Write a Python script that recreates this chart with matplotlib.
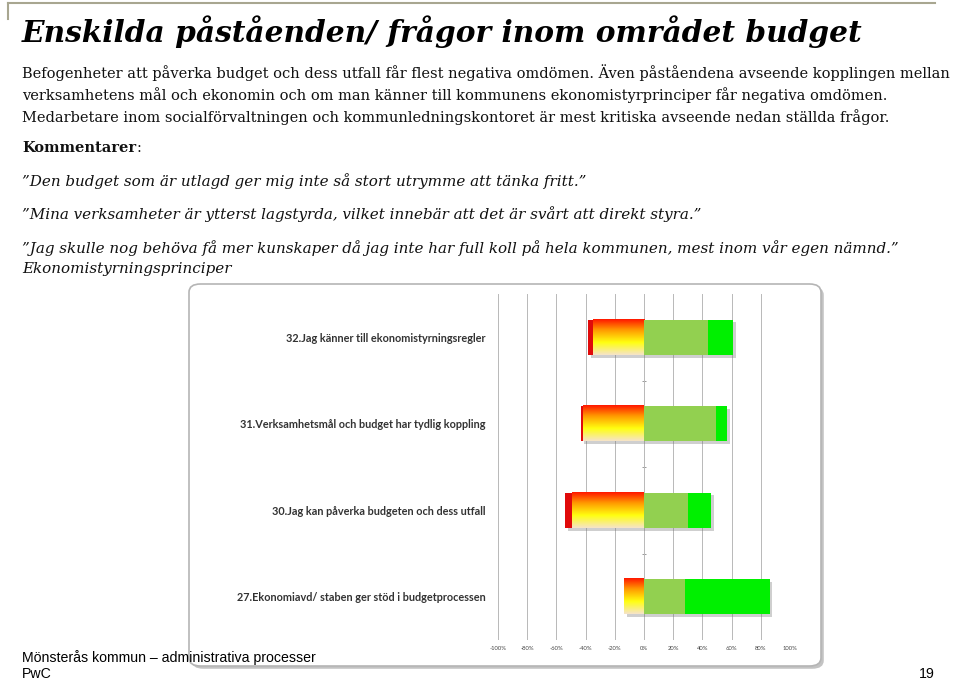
import matplotlib

matplotlib.use("Agg")

import matplotlib.pyplot as plt
import numpy as np
from matplotlib import patheffects
from matplotlib.colors import LinearSegmentedColormap
from matplotlib.patches import FancyBboxPatch

W, H = 959, 681

# survey statements, bottom to top as drawn
questions = [
    "27.Ekonomiavd/ staben ger stöd i budgetprocessen",
    "30.Jag kan påverka budgeten och dess utfall",
    "31.Verksamhetsmål och budget har tydlig koppling",
    "32.Jag känner till ekonomistyrningsregler",
]
# share of answers (%)
disagree_strong = [0.0, 5.0, 1.7, 3.5]
disagree_some = [13.5, 49.0, 41.5, 35.0]
agree_some = [28.0, 30.0, 49.0, 44.0]
agree_strong = [58.0, 16.0, 8.0, 17.0]
tick_values = [-100, -80, -60, -40, -20, 0, 20, 40, 60, 80, 100]

title = "Enskilda påståenden/ frågor inom området budget"
body_lines = [
    "Befogenheter att påverka budget och dess utfall får flest negativa omdömen. Även påståendena avseende kopplingen mellan",
    "verksamhetens mål och ekonomin och om man känner till kommunens ekonomistyrprinciper får negativa omdömen.",
    "Medarbetare inom socialförvaltningen och kommunledningskontoret är mest kritiska avseende nedan ställda frågor.",
]
quotes = [
    "”Den budget som är utlagd ger mig inte så stort utrymme att tänka fritt.”",
    "”Mina verksamheter är ytterst lagstyrda, vilket innebär att det är svårt att direkt styra.”",
    "”Jag skulle nog behöva få mer kunskaper då jag inte har full koll på hela kommunen, mest inom vår egen nämnd.”",
]


def fx(px):
    return px / W


def fy(py):
    return 1 - py / H


fig = plt.figure(figsize=(W / 100, H / 100), dpi=100)
fig.patch.set_facecolor("white")
renderer = fig.canvas.get_renderer()


def fit_text(x, y, s, target_w, size, **kw):
    t = fig.text(fx(x), fy(y), s, fontsize=size, va="center", **kw)
    w = t.get_window_extent(renderer).width
    t.set_fontsize(size * target_w / w)
    return t


serif = "DejaVu Serif"
ink = "#111111"

# slide decoration top-left
deco = "#A8A690"
fig.add_artist(plt.Line2D([fx(8), fx(935)], [fy(3), fy(3)], color=deco, lw=1.5))
fig.add_artist(plt.Line2D([fx(8), fx(8)], [fy(3), fy(19)], color=deco, lw=1.5))

fit_text(22, 32, title, 838, 22, family=serif, weight="bold", style="italic", color="black")

t0 = fit_text(22, 73, body_lines[0], 925, 11, family=serif, color=ink)
body_size = t0.get_fontsize()
for s, y in zip(body_lines[1:], [95, 117]):
    fig.text(fx(22), fy(y), s, fontsize=body_size, family=serif, va="center", color=ink)

k = fig.text(fx(22), fy(148), "Kommentarer", fontsize=body_size, family=serif, weight="bold",
             va="center", color=ink)
kw = k.get_window_extent(renderer)
fig.text(kw.x1 / W, fy(148), ":", fontsize=body_size, family=serif, va="center", color=ink)

q3 = fit_text(22, 248, quotes[2], 875, 11, family=serif, style="italic", color=ink)
q_size = q3.get_fontsize()
for s, y in zip(quotes[:2], [181, 214]):
    fig.text(fx(22), fy(y), s, fontsize=q_size, family=serif, style="italic", va="center", color=ink)
fig.text(fx(22), fy(269), "Ekonomistyrningsprinciper", fontsize=q_size, family=serif, style="italic",
         va="center", color=ink)

# chart panel with shadow
panel = FancyBboxPatch((fx(189), fy(666)), fx(632), (666 - 284) / H,
                       boxstyle="round,pad=0,rounding_size=0.012", transform=fig.transFigure,
                       facecolor="white", edgecolor="#B5B5B5", lw=1.2, zorder=-1,
                       path_effects=[patheffects.SimplePatchShadow(offset=(2, -2), shadow_rgbFace="#888888", alpha=0.5),
                                     patheffects.Normal()])
fig.add_artist(panel)

ax = fig.add_axes([fx(498), fy(640), (790 - 498) / W, (640 - 294) / H])
ax.set_facecolor("none")
y = np.arange(len(questions))
h = 0.41

grad = LinearSegmentedColormap.from_list(
    "neg", [(0, "#F6E4C8"), (0.35, "#FFFF10"), (0.7, "#FF9A00"), (1.0, "#FF1800")])

neg_some = -np.array(disagree_some)
neg_strong = neg_some - np.array(disagree_strong)
pos_some = np.array(agree_some)
pos_total = pos_some + np.array(agree_strong)

# shadows
ax.barh(y, pos_total - neg_strong, left=neg_strong, height=h, color="none", zorder=1,
        path_effects=[patheffects.SimplePatchShadow(offset=(2, -2), shadow_rgbFace="#777777", alpha=0.35)])

ax.barh(y, neg_strong - neg_some, left=neg_some, height=h, color="#E00A0A", zorder=3)
ramp = np.linspace(0, 1, 100).reshape(-1, 1)
for yi, left in zip(y, neg_some):
    if left < 0:
        ax.imshow(ramp, cmap=grad, origin="lower", aspect="auto", zorder=3,
                  extent=(left, 0, yi - h / 2, yi + h / 2), interpolation="bilinear")
ax.barh(y, pos_some, left=0, height=h, color="#92D050", zorder=3)
ax.barh(y, pos_total - pos_some, left=pos_some, height=h, color="#00F000", zorder=3)

ax.set_xlim(-100, 100)
ax.set_ylim(-0.5, len(questions) - 0.5)
ax.set_xticks(tick_values)
ax.set_xticklabels([f"{v}%" for v in tick_values], fontsize=4.2, color="#444444", family="Lato")
ax.set_yticks(y)
ax.set_yticklabels(questions, fontsize=7.85, weight="bold", color="#333333", family="Lato")
ax.tick_params(axis="both", length=0, pad=4)
ax.tick_params(axis="y", pad=9)
ax.grid(axis="x", color="#B8B8B8", lw=0.7, zorder=0)
ax.set_axisbelow(True)
for sp in ax.spines.values():
    sp.set_visible(False)

# small category separators on the 0% axis
sec = ax.secondary_yaxis(0.5)
sec.set_yticks(y[:-1] + 0.5)
sec.set_yticklabels([])
sec.tick_params(length=3, direction="inout", color="#999999", width=0.7)
for sp in sec.spines.values():
    sp.set_visible(False)

# footer
foot = dict(fontsize=10.2, family="Liberation Sans", va="center", color="black")
fig.text(fx(22), fy(658), "Mönsterås kommun – administrativa processer", **foot)
fig.text(fx(22), fy(674), "PwC", **foot)
fig.text(fx(935), fy(674), "19", ha="right", **foot)

fig.savefig("out.png", dpi=100)
